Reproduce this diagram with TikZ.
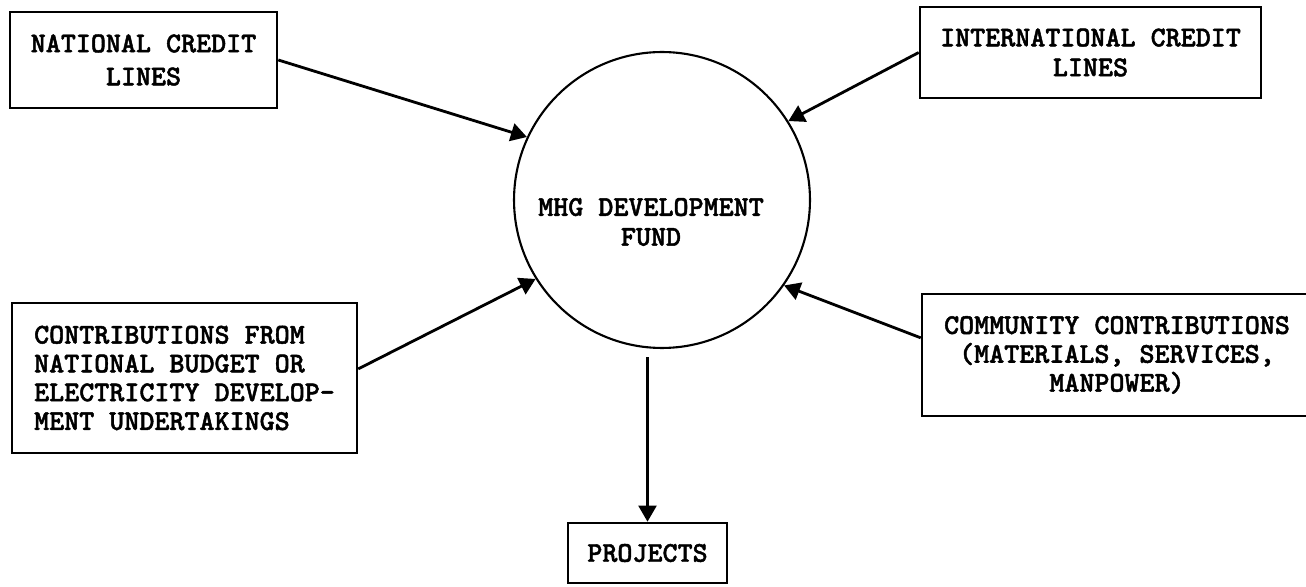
\documentclass[tikz,border=0pt]{standalone}
\usepackage{fontspec}
\newfontfamily\typefont{lmmonolt10-bold.otf}[FakeBold=1.6]
\usetikzlibrary{arrows.meta}
\newcommand{\typed}[1]{\typefont\fontsize{16.3pt}{#1}\selectfont}

\begin{document}
\begin{tikzpicture}[x=0.02cm, y=-0.02cm,
        box/.style={draw, line width=1.5pt, inner sep=0pt, align=center},
        flow/.style={-{Triangle[length=0.32cm,width=0.36cm]}, line width=1.6pt}]
        \useasboundingbox (0,0) rectangle (1306,587);

        \node[draw, circle, line width=1.2pt, minimum size=5.92cm, inner sep=0pt] (fund) at (662,200) {};
        \node[align=center, font=\typed{17pt}] (fundtext) at (651,222) {MHG DEVELOPMENT\\FUND};

        \node[box, minimum width=5.34cm, minimum height=1.92cm, font=\typed{18.8pt}] (ncl) at (143.5,60) {NATIONAL CREDIT\\LINES};
        \node[box, minimum width=6.82cm, minimum height=1.82cm, font=\typed{17pt}] (icl) at (1090.5,52.5) {INTERNATIONAL CREDIT\\LINES};
        \node[box, align=left, minimum width=6.9cm, minimum height=3cm, font=\typed{16.4pt}] (budget) at (184.5,378) {CONTRIBUTIONS FROM\\NATIONAL BUDGET OR\\ELECTRICITY DEVELOP-\\MENT UNDERTAKINGS};
        \node[box, minimum width=7.8cm, minimum height=2.44cm, font=\typed{16.4pt}] (community) at (1117,355) {COMMUNITY CONTRIBUTIONS\\(MATERIALS, SERVICES,\\MANPOWER)};
        \node[box, minimum width=3.18cm, minimum height=1.2cm, font=\typed{17pt}] (projects) at (647.5,553) {PROJECTS};

        \draw[flow] (ncl.east) -- (fund.155);
        \draw[flow] (icl.west) -- (fund.32);
        \draw[flow] (budget.3) -- (fund.212);
        \draw[flow] (community.175) -- (fund.325);
        \draw[flow, line width=1.2pt, shorten <=0.16cm] (projects.north |- fund.south) -- (projects.north);
    \end{tikzpicture}
\end{document}
